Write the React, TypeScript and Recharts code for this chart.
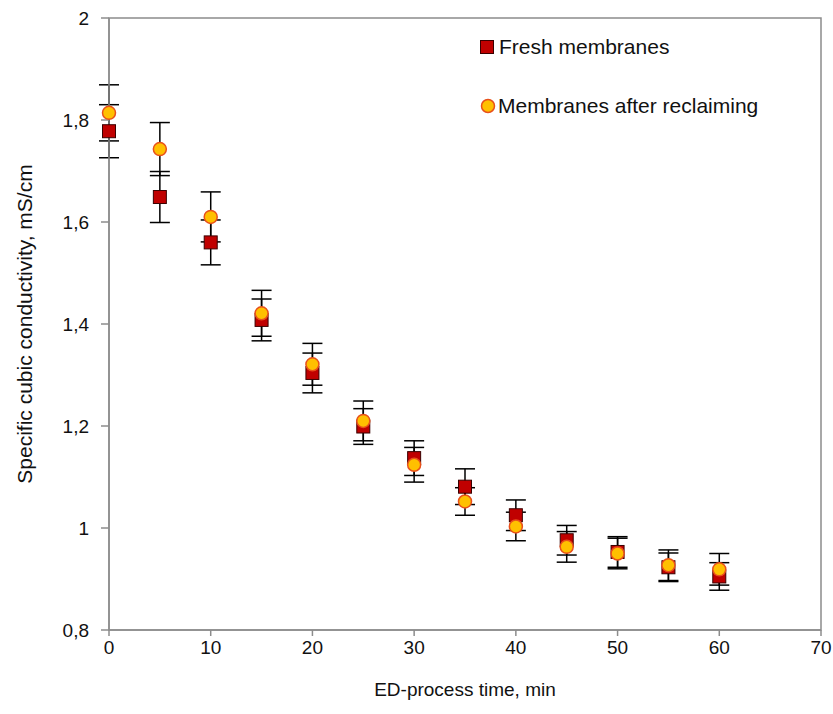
import React from "react";
import {
  ScatterChart,
  Scatter,
  XAxis,
  YAxis,
  ErrorBar,
  ReferenceArea,
} from "recharts";

const times = [0, 5, 10, 15, 20, 25, 30, 35, 40, 45, 50, 55, 60];
const freshValues = [1.778, 1.649, 1.56, 1.408, 1.304, 1.199, 1.137, 1.081, 1.025, 0.976, 0.953, 0.923, 0.905];
const freshErrors = [0.052, 0.05, 0.044, 0.041, 0.039, 0.035, 0.034, 0.035, 0.03, 0.029, 0.03, 0.028, 0.027];
const reclaimedValues = [1.814, 1.743, 1.61, 1.421, 1.321, 1.21, 1.124, 1.052, 1.003, 0.963, 0.95, 0.927, 0.919];
const reclaimedErrors = [0.055, 0.052, 0.049, 0.045, 0.041, 0.039, 0.034, 0.027, 0.028, 0.03, 0.03, 0.03, 0.031];

const xTicks = [0, 10, 20, 30, 40, 50, 60, 70];
const yTicks = [0.8, 1, 1.2, 1.4, 1.6, 1.8, 2];
const yTickLabels = ["0,8", "1", "1,2", "1,4", "1,6", "1,8", "2"];
const seriesNames = ["Fresh membranes", "Membranes after reclaiming"];

const freshData = times.map((t, i) => ({ x: t, y: freshValues[i], err: freshErrors[i] }));
const reclaimedData = times.map((t, i) => ({ x: t, y: reclaimedValues[i], err: reclaimedErrors[i] }));

const FONT = "'Liberation Sans', Arial, sans-serif";
const AXIS = "#8c8c8c";
const SQ_FILL = "#C00000";
const SQ_STROKE = "#3a0000";
const CI_FILL = "#FFC000";
const CI_STROKE = "#E8501A";

const NoShape = () => null;

const SquareShape = (props: any) => {
  const { cx, cy } = props;
  if (cx == null || cy == null) return null;
  return <rect x={cx - 6.5} y={cy - 6.5} width={13} height={13} fill={SQ_FILL} stroke={SQ_STROKE} strokeWidth={1} />;
};

const CircleShape = (props: any) => {
  const { cx, cy } = props;
  if (cx == null || cy == null) return null;
  return <circle cx={cx} cy={cy} r={6.5} fill={CI_FILL} stroke={CI_STROKE} strokeWidth={1.5} />;
};

const LegendBox = () => (
  <div style={{ position: "absolute", left: 478, top: 34, fontFamily: FONT, fontSize: 21, color: "#111", lineHeight: "24px" }}>
    <div style={{ display: "flex", alignItems: "center", height: 26 }}>
      <svg width={20} height={20} style={{ marginRight: 1 }}>
        <rect x={2.5} y={3.5} width={13} height={13} fill={SQ_FILL} stroke={SQ_STROKE} strokeWidth={1} />
      </svg>
      <span>{seriesNames[0]}</span>
    </div>
    <div style={{ display: "flex", alignItems: "center", height: 26, marginTop: 33 }}>
      <svg width={20} height={20} style={{ marginRight: 0 }}>
        <circle cx={10} cy={10} r={6.5} fill={CI_FILL} stroke={CI_STROKE} strokeWidth={1.5} />
      </svg>
      <span>{seriesNames[1]}</span>
    </div>
  </div>
);

const YLabel = (props: any) => {
  const vb = props.viewBox || {};
  const cy = (vb.y || 0) + (vb.height || 0) / 2;
  return (
    <text
      x={24}
      y={cy}
      transform={`rotate(-90, 24, ${cy})`}
      textAnchor="middle"
      dominantBaseline="central"
      fontFamily={FONT}
      fontSize={21}
      fill="#111"
    >
      Specific cubic conductivity, mS/cm
    </text>
  );
};

export default function App() {
  return (
    <div style={{ position: "absolute", left: 0, top: 0, width: 833, height: 714, background: "#fff" }}>
      <ScatterChart width={833} height={714} margin={{ top: 18, right: 12, bottom: 24, left: 0 }}>
        <ReferenceArea x1={0} x2={70} y1={0.8} y2={2} fill="none" stroke={AXIS} strokeWidth={1.5} ifOverflow="visible" />
        <XAxis
          type="number"
          dataKey="x"
          domain={[0, 70]}
          ticks={xTicks}
          interval={0}
          height={60}
          stroke={AXIS}
          strokeWidth={1.5}
          tickSize={6}
          tickMargin={5}
          tick={{ fontFamily: FONT, fontSize: 19, fill: "#111" }}
          label={{
            value: "ED-process time, min",
            position: "insideBottom",
            offset: -6,
            style: { fontFamily: FONT, fontSize: 19, fill: "#111" },
          }}
        />
        <YAxis
          type="number"
          dataKey="y"
          domain={[0.8, 2]}
          ticks={yTicks}
          interval={0}
          width={109}
          stroke={AXIS}
          strokeWidth={1.5}
          tickSize={8}
          tickMargin={12}
          tickFormatter={(v: number) => yTickLabels[yTicks.findIndex((t) => Math.abs(t - v) < 1e-9)] ?? String(v)}
          tick={{ fontFamily: FONT, fontSize: 19, fill: "#111" }}
          label={<YLabel />}
        />
        <Scatter name={seriesNames[0] + " error"} data={freshData} shape={<NoShape />} isAnimationActive={false} legendType="none">
          <ErrorBar dataKey="err" direction="y" width={10} stroke="#000" strokeWidth={1.5} />
        </Scatter>
        <Scatter name={seriesNames[1] + " error"} data={reclaimedData} shape={<NoShape />} isAnimationActive={false} legendType="none">
          <ErrorBar dataKey="err" direction="y" width={10} stroke="#000" strokeWidth={1.5} />
        </Scatter>
        <Scatter name={seriesNames[0]} data={freshData} shape={<SquareShape />} isAnimationActive={false} />
        <Scatter name={seriesNames[1]} data={reclaimedData} shape={<CircleShape />} isAnimationActive={false} />
      </ScatterChart>
      <LegendBox />
    </div>
  );
}
